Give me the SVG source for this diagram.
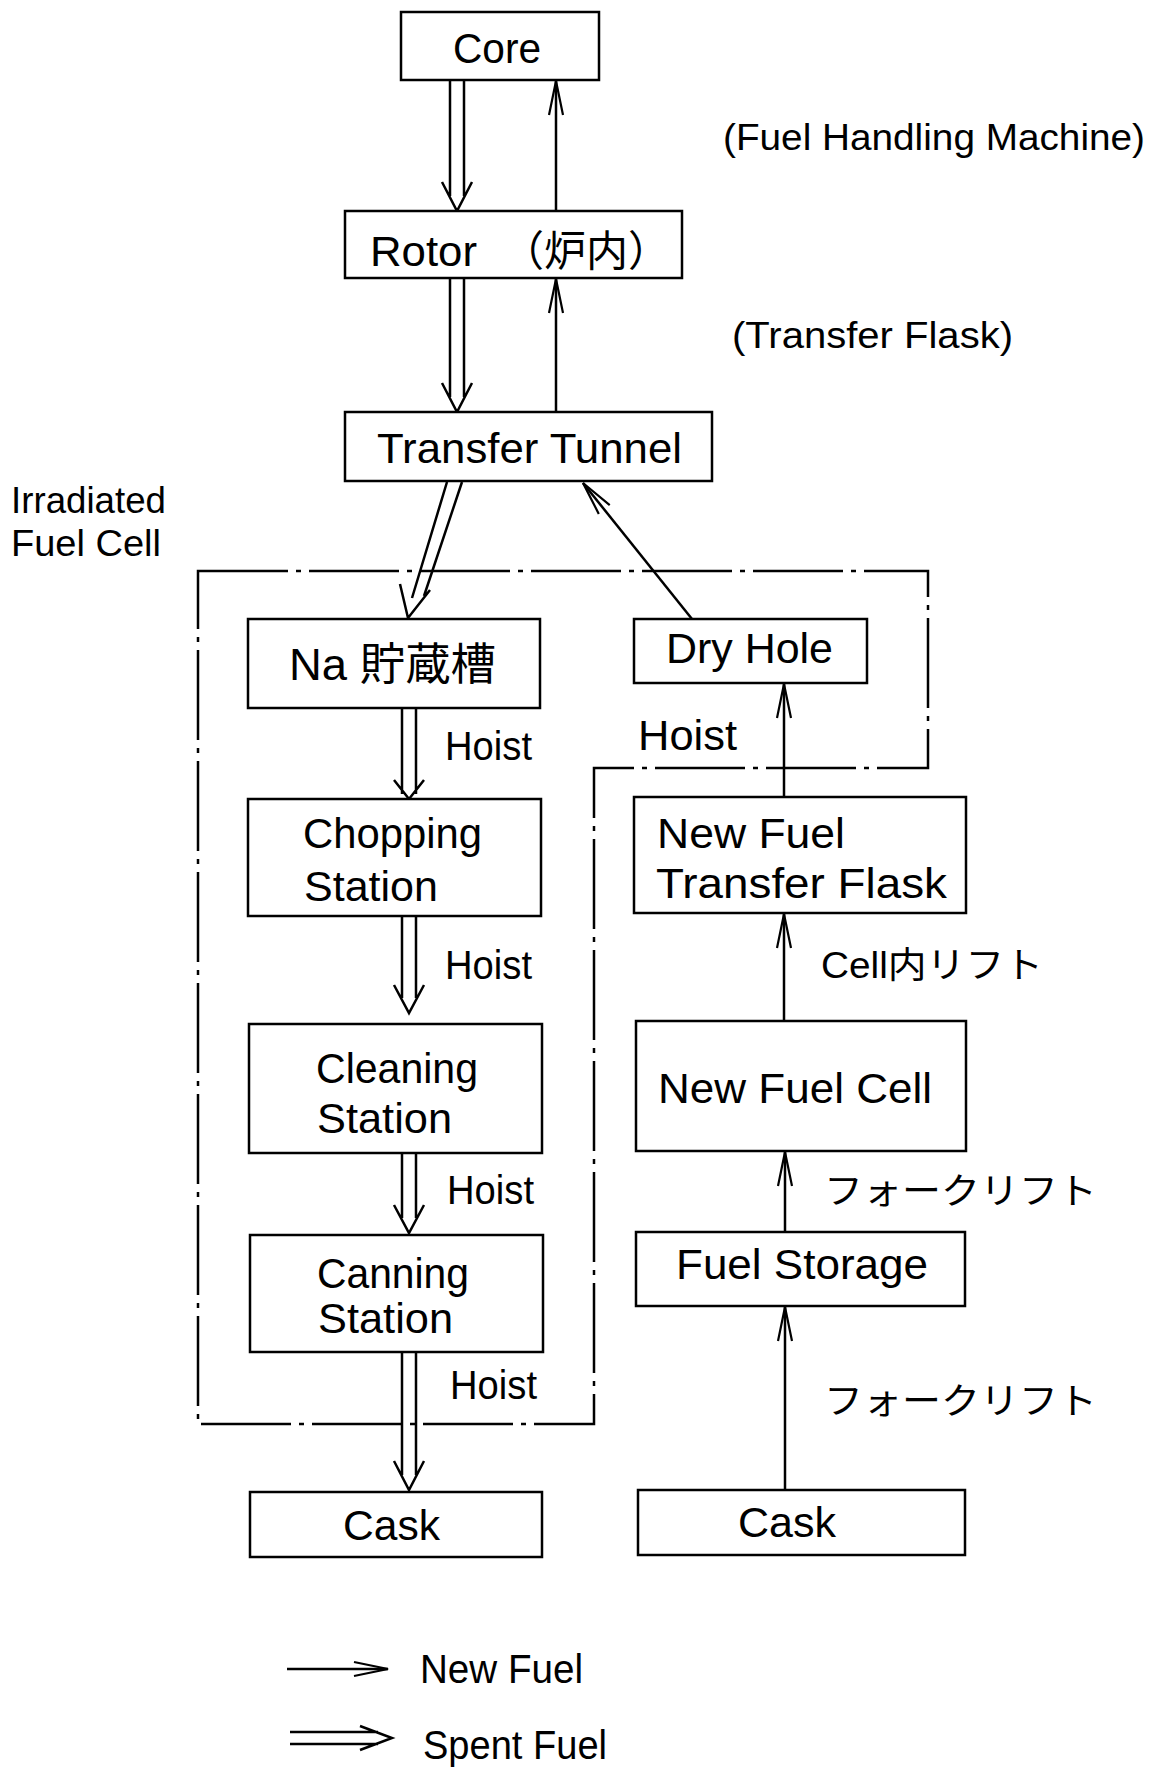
<svg xmlns="http://www.w3.org/2000/svg" width="1153" height="1767" viewBox="0 0 1153 1767">
<style>
.bg{fill:#fff}
.box{fill:#fff;stroke:#000;stroke-width:2.5}
.t{font-family:"Liberation Sans","Noto Sans CJK JP",sans-serif;font-size:42px;fill:#000}
.s{font-size:36px}
.h{font-size:40px}
.ln{fill:none;stroke:#000;stroke-width:2.5}
.dbl{fill:none;stroke:#000;stroke-width:2.5;stroke-linejoin:miter}
.cell{fill:none;stroke:#000;stroke-width:2.5;stroke-dasharray:90 8 5 8}
</style>
<defs>
<marker id="arr" markerUnits="userSpaceOnUse" viewBox="0 0 40 20" refX="38" refY="10" markerWidth="40" markerHeight="20" orient="auto">
<path d="M4,3 L38,10 L4,17" fill="none" stroke="#000" stroke-width="2.2"/>
</marker>
</defs>
<rect class="bg" x="0" y="0" width="1153" height="1767"/>

<g id="cell-boundary">
<path class="cell" d="M198,571 H928 V768 H594 V1424 H198 Z"/>
</g>

<g id="connectors">
<!-- spent fuel (double) -->
<path class="dbl" d="M450,80 V196 M464,80 V196 M442,182 L457,211 L472,182"/>
<path class="dbl" d="M450,278 V397 M464,278 V397 M442,383 L457,412 L472,383"/>
<path class="dbl" d="M447,482 L412,598 M462,482 L424,596 M400,584 L408,618 L430,590"/>
<path class="dbl" d="M402,708 V794 M416,708 V794 M394,780 L409,799 L424,780"/>
<path class="dbl" d="M402,917 V998 M416,917 V998 M394,985 L409,1013 L424,985"/>
<path class="dbl" d="M402,1153 V1218 M416,1153 V1218 M394,1205 L409,1233 L424,1205"/>
<path class="dbl" d="M402,1352 V1475 M416,1352 V1475 M394,1461 L409,1490 L424,1461"/>
<!-- new fuel (single) -->
<line class="ln" x1="556" y1="211" x2="556" y2="81" marker-end="url(#arr)"/>
<line class="ln" x1="556" y1="412" x2="556" y2="279" marker-end="url(#arr)"/>
<line class="ln" x1="692" y1="619" x2="583" y2="483" marker-end="url(#arr)"/>
<line class="ln" x1="784" y1="797" x2="784" y2="684" marker-end="url(#arr)"/>
<line class="ln" x1="784" y1="1021" x2="784" y2="914" marker-end="url(#arr)"/>
<line class="ln" x1="785" y1="1232" x2="785" y2="1152" marker-end="url(#arr)"/>
<line class="ln" x1="785" y1="1490" x2="785" y2="1307" marker-end="url(#arr)"/>
</g>

<g id="core"><rect class="box" x="401" y="12" width="198" height="68"/>
<text class="t" x="453" y="63" textLength="88" lengthAdjust="spacingAndGlyphs">Core</text></g>

<g id="rotor"><rect class="box" x="345" y="211" width="337" height="67"/>
<text class="t" y="266"><tspan x="370" textLength="107" lengthAdjust="spacingAndGlyphs">Rotor</tspan><tspan x="502">（炉内）</tspan></text></g>

<g id="transfer-tunnel"><rect class="box" x="345" y="412" width="367" height="69"/>
<text class="t" x="377" y="463" textLength="305" lengthAdjust="spacingAndGlyphs">Transfer Tunnel</text></g>

<g id="na-storage"><rect class="box" x="248" y="619" width="292" height="89"/>
<text class="t" x="289" y="680" textLength="207" lengthAdjust="spacingAndGlyphs" style="font-size:44px">Na 貯蔵槽</text></g>

<g id="chopping"><rect class="box" x="248" y="799" width="293" height="117"/>
<text class="t" x="303" y="848" textLength="179" lengthAdjust="spacingAndGlyphs">Chopping</text>
<text class="t" x="304" y="901" textLength="134" lengthAdjust="spacingAndGlyphs">Station</text></g>

<g id="cleaning"><rect class="box" x="249" y="1024" width="293" height="129"/>
<text class="t" x="316" y="1083" textLength="162" lengthAdjust="spacingAndGlyphs">Cleaning</text>
<text class="t" x="317" y="1133" textLength="135" lengthAdjust="spacingAndGlyphs">Station</text></g>

<g id="canning"><rect class="box" x="250" y="1235" width="293" height="117"/>
<text class="t" x="317" y="1288" textLength="152" lengthAdjust="spacingAndGlyphs">Canning</text>
<text class="t" x="318" y="1333" textLength="135" lengthAdjust="spacingAndGlyphs">Station</text></g>

<g id="cask-spent"><rect class="box" x="250" y="1492" width="292" height="65"/>
<text class="t" x="343" y="1540" textLength="97" lengthAdjust="spacingAndGlyphs">Cask</text></g>

<g id="dry-hole"><rect class="box" x="634" y="619" width="233" height="64"/>
<text class="t" x="666" y="663" textLength="167" lengthAdjust="spacingAndGlyphs">Dry Hole</text></g>

<g id="new-fuel-transfer-flask"><rect class="box" x="634" y="797" width="332" height="116"/>
<text class="t" x="657" y="848" textLength="188" lengthAdjust="spacingAndGlyphs">New Fuel</text>
<text class="t" x="656" y="898" textLength="291" lengthAdjust="spacingAndGlyphs">Transfer Flask</text></g>

<g id="new-fuel-cell"><rect class="box" x="636" y="1021" width="330" height="130"/>
<text class="t" x="658" y="1103" textLength="274" lengthAdjust="spacingAndGlyphs">New Fuel Cell</text></g>

<g id="fuel-storage"><rect class="box" x="636" y="1232" width="329" height="74"/>
<text class="t" x="676" y="1279" textLength="252" lengthAdjust="spacingAndGlyphs">Fuel Storage</text></g>

<g id="cask-new"><rect class="box" x="638" y="1490" width="327" height="65"/>
<text class="t" x="738" y="1537" textLength="98" lengthAdjust="spacingAndGlyphs">Cask</text></g>

<g id="labels">
<text class="t s" x="723" y="150" textLength="422" lengthAdjust="spacingAndGlyphs">(Fuel Handling Machine)</text>
<text class="t s" x="732" y="348" textLength="281" lengthAdjust="spacingAndGlyphs">(Transfer Flask)</text>
<text class="t" x="11" y="513" textLength="155" lengthAdjust="spacingAndGlyphs" style="font-size:37px">Irradiated</text>
<text class="t" x="11" y="556" textLength="150" lengthAdjust="spacingAndGlyphs" style="font-size:37px">Fuel Cell</text>
<text class="t h" x="445" y="760" textLength="87" lengthAdjust="spacingAndGlyphs">Hoist</text>
<text class="t h" x="445" y="979" textLength="87" lengthAdjust="spacingAndGlyphs">Hoist</text>
<text class="t h" x="447" y="1204" textLength="87" lengthAdjust="spacingAndGlyphs">Hoist</text>
<text class="t h" x="450" y="1399" textLength="87" lengthAdjust="spacingAndGlyphs">Hoist</text>
<text class="t" x="638" y="750" textLength="99" lengthAdjust="spacingAndGlyphs">Hoist</text>
<text class="t s" x="821" y="978" textLength="222" lengthAdjust="spacingAndGlyphs">Cell内リフト</text>
<text class="t s" x="824" y="1204" textLength="273" lengthAdjust="spacingAndGlyphs">フォークリフト</text>
<text class="t s" x="824" y="1414" textLength="273" lengthAdjust="spacingAndGlyphs">フォークリフト</text>
</g>

<g id="legend">
<line class="ln" x1="287" y1="1669" x2="388" y2="1669" marker-end="url(#arr)"/>
<text class="t h" x="420" y="1683" textLength="163" lengthAdjust="spacingAndGlyphs">New Fuel</text>
<path class="dbl" d="M290,1732 H378 M290,1744 H378 M360,1726 L392,1738 L360,1750"/>
<text class="t h" x="423" y="1759" textLength="184" lengthAdjust="spacingAndGlyphs">Spent Fuel</text>
</g>
</svg>
